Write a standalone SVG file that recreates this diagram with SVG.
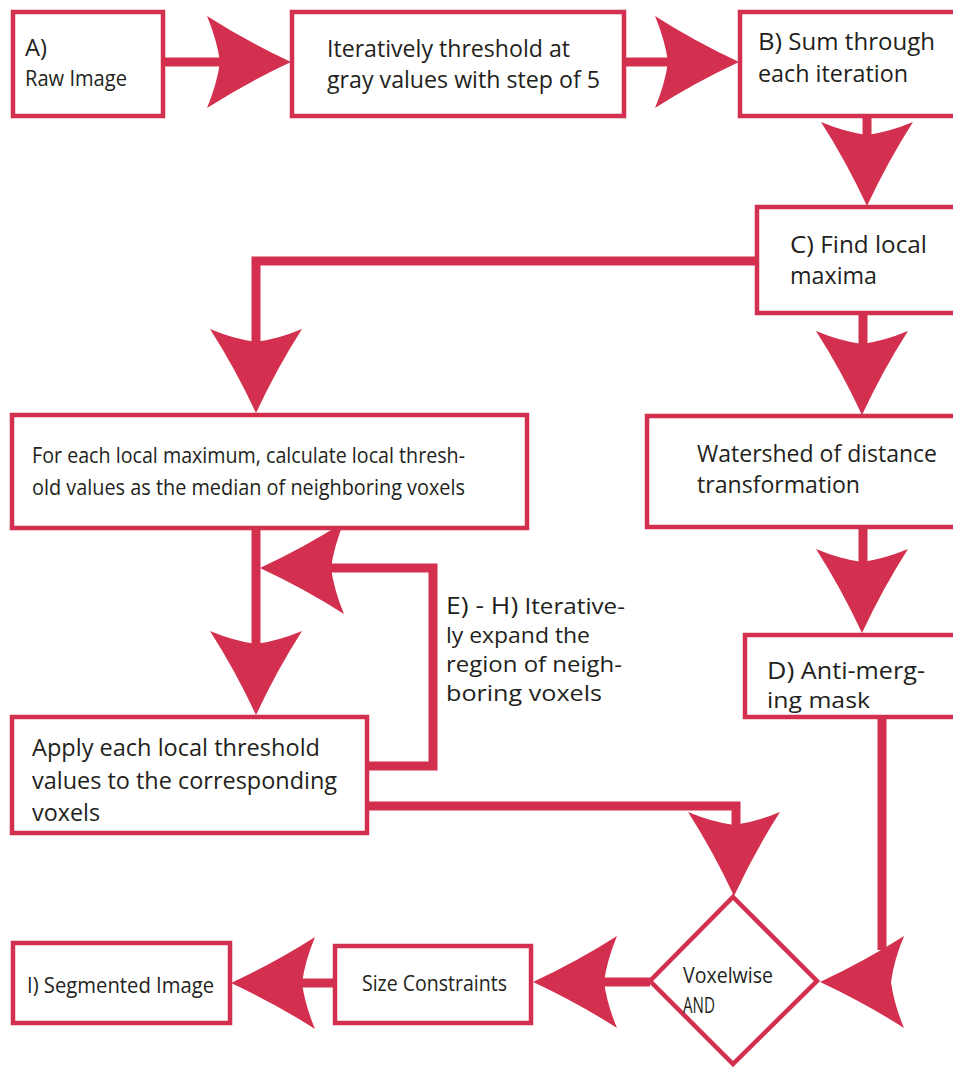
<svg xmlns="http://www.w3.org/2000/svg" xmlns:xlink="http://www.w3.org/1999/xlink" width="953" height="1067" viewBox="0 0 953 1067">
<style>
.box{fill:#fff;stroke:#d3304f;stroke-width:4.5}
.ln{fill:none;stroke:#d3304f;stroke-width:9;stroke-linejoin:miter}
.ah{fill:#d3304f}
text{font-family:"Open Sans","Noto Sans","Liberation Sans",sans-serif;fill:#231f20;font-size:23px}
.big{font-size:24.5px}
.sm{font-size:21px}
.eh{font-size:21px}
</style>
<defs>
<path id="head" d="M0,0 Q-45,-21 -84,-46 Q-74,-22 -71,0 Q-74,22 -84,46 Q-45,21 0,0 Z"/>
</defs>
<g id="connectors">
<path class="ln" d="M163,62 H220"/>
<use href="#head" class="ah" transform="translate(291,62)"/>
<path class="ln" d="M624,62 H672"/>
<use href="#head" class="ah" transform="translate(739,62)"/>
<path class="ln" d="M867,116 V142"/>
<use href="#head" class="ah" transform="translate(867,206) rotate(90)"/>
<path class="ln" d="M757,261 H256 V348"/>
<use href="#head" class="ah" transform="translate(256,413) rotate(90)"/>
<path class="ln" d="M863,313 V345"/>
<use href="#head" class="ah" transform="translate(862,415) rotate(90)"/>
<path class="ln" d="M863,527 V565"/>
<use href="#head" class="ah" transform="translate(862,633) rotate(90)"/>
<path class="ln" d="M256,528 V650"/>
<use href="#head" class="ah" transform="translate(256,715) rotate(90)"/>
<path class="ln" d="M367,766 H433 V568 H325"/>
<use href="#head" class="ah" transform="translate(260,568) rotate(180)"/>
<path class="ln" d="M367,806 H736 V835"/>
<use href="#head" class="ah" transform="translate(734,896) rotate(90)"/>
<path class="ln" d="M882,717 V950"/>
<use href="#head" class="ah" transform="translate(820,982) rotate(180)"/>
<path class="ln" d="M650,982 H600"/>
<use href="#head" class="ah" transform="translate(533,982) rotate(180)"/>
<path class="ln" d="M335,983 H298"/>
<use href="#head" class="ah" transform="translate(231,983) rotate(180)"/>
</g>
<g id="nodeA">
<rect class="box" x="13" y="12" width="150" height="104"/>
<text x="25" y="56" textLength="22" lengthAdjust="spacingAndGlyphs">A)</text>
<text x="25" y="86" class="sm" textLength="102" lengthAdjust="spacingAndGlyphs">Raw Image</text>
</g>
<g id="nodeThreshold">
<rect class="box" x="292" y="12" width="332" height="104"/>
<text x="327" y="57" textLength="243" lengthAdjust="spacingAndGlyphs">Iteratively threshold at</text>
<text x="327" y="88" textLength="273" lengthAdjust="spacingAndGlyphs">gray values with step of 5</text>
</g>
<g id="nodeB">
<rect class="box" x="740" y="12" width="240" height="104"/>
<text x="758" y="50" textLength="177" lengthAdjust="spacingAndGlyphs"><tspan class="big">B)</tspan> Sum through</text>
<text x="758" y="82" textLength="150" lengthAdjust="spacingAndGlyphs">each iteration</text>
</g>
<g id="nodeC">
<rect class="box" x="757" y="207" width="220" height="106"/>
<text x="790" y="253" textLength="137" lengthAdjust="spacingAndGlyphs"><tspan class="big">C)</tspan> Find local</text>
<text x="790" y="284" textLength="87" lengthAdjust="spacingAndGlyphs">maxima</text>
</g>
<g id="nodeLocalThreshold">
<rect class="box" x="12" y="415" width="515" height="113"/>
<text x="32" y="463" class="sm" textLength="433" lengthAdjust="spacingAndGlyphs">For each local maximum, calculate local thresh-</text>
<text x="32" y="495" class="sm" textLength="433" lengthAdjust="spacingAndGlyphs">old values as the median of neighboring voxels</text>
</g>
<g id="nodeWatershed">
<rect class="box" x="647" y="416" width="330" height="111"/>
<text x="697" y="462" textLength="240" lengthAdjust="spacingAndGlyphs">Watershed of distance</text>
<text x="697" y="493" textLength="163" lengthAdjust="spacingAndGlyphs">transformation</text>
</g>
<g id="nodeD">
<rect class="box" x="745" y="635" width="230" height="82"/>
<text x="767" y="679" textLength="158" lengthAdjust="spacingAndGlyphs"><tspan class="big">D)</tspan> Anti-merg-</text>
<text x="767" y="708" class="sm" textLength="103" lengthAdjust="spacingAndGlyphs">ing mask</text>
</g>
<g id="nodeApply">
<rect class="box" x="12" y="717" width="355" height="116"/>
<text x="32" y="756" textLength="288" lengthAdjust="spacingAndGlyphs">Apply each local threshold</text>
<text x="32" y="789" textLength="305" lengthAdjust="spacingAndGlyphs">values to the corresponding</text>
<text x="32" y="821" textLength="68" lengthAdjust="spacingAndGlyphs">voxels</text>
</g>
<g id="labelEH">
<text x="446" y="614" class="eh" textLength="179" lengthAdjust="spacingAndGlyphs"><tspan font-size="23">E) - H)</tspan> Iterative-</text>
<text x="446" y="643" class="eh" textLength="144" lengthAdjust="spacingAndGlyphs">ly expand the</text>
<text x="446" y="672" class="eh" textLength="176" lengthAdjust="spacingAndGlyphs">region of neigh-</text>
<text x="446" y="701" class="eh" textLength="156" lengthAdjust="spacingAndGlyphs">boring voxels</text>
</g>
<g id="nodeAND">
<polygon class="box" points="733,897 817,981 733,1064 650,981"/>
<text x="683" y="983" class="sm" textLength="90" lengthAdjust="spacingAndGlyphs">Voxelwise</text>
<text x="683" y="1013" class="sm" textLength="32" lengthAdjust="spacingAndGlyphs">AND</text>
</g>
<g id="nodeSize">
<rect class="box" x="335" y="946" width="196" height="77"/>
<text x="362" y="991" class="sm" textLength="145" lengthAdjust="spacingAndGlyphs">Size Constraints</text>
</g>
<g id="nodeSegmented">
<rect class="box" x="13" y="943" width="217" height="80"/>
<text x="27" y="993" class="sm" textLength="187" lengthAdjust="spacingAndGlyphs">I) Segmented Image</text>
</g>
</svg>
